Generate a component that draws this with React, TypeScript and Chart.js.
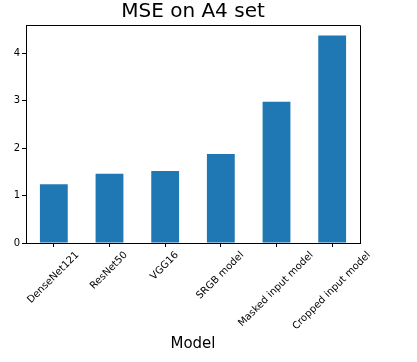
import React, { useEffect, useRef } from "react";
import { Chart, registerables } from "chart.js";

Chart.register(...registerables);

const categories = [
  "DenseNet121",
  "ResNet50",
  "VGG16",
  "SRGB model",
  "Masked input model",
  "Cropped input model",
];
const mseValues = [1.24, 1.46, 1.52, 1.88, 2.98, 4.38];
const yTicks = [0, 1, 2, 3, 4];
const titleText = "MSE on A4 set";
const xTitle = "Model";

const FONT = "'DejaVu Sans', sans-serif";

const framePlugin = {
  id: "frameAndLabels",
  afterDraw(chart: any) {
    const { ctx, chartArea } = chart;
    const xs = chart.scales.x;
    ctx.save();
    // spines (top and right)
    ctx.strokeStyle = "#000";
    ctx.lineWidth = 1;
    ctx.beginPath();
    ctx.moveTo(chartArea.left, chartArea.top + 0.5);
    ctx.lineTo(chartArea.right + 0.5, chartArea.top + 0.5);
    ctx.lineTo(chartArea.right + 0.5, chartArea.bottom);
    ctx.stroke();
    // rotated x tick labels, centered like matplotlib
    ctx.font = `10px ${FONT}`;
    ctx.fillStyle = "#000";
    ctx.textAlign = "right";
    ctx.textBaseline = "top";
    const h = 11.6;
    const c = Math.SQRT1_2;
    categories.forEach((label, i) => {
      const tx = xs.getPixelForTick(i);
      const w = ctx.measureText(label).width;
      const ax = tx + (c * (w - h)) / 2;
      const ay = chartArea.bottom + 7;
      ctx.save();
      ctx.translate(ax, ay);
      ctx.rotate(-Math.PI / 4);
      ctx.fillText(label, 0, 0);
      ctx.restore();
    });
    ctx.restore();
  },
};

export default function App() {
  const ref = useRef<HTMLCanvasElement | null>(null);
  useEffect(() => {
    document.body.style.margin = "0";
    const chart = new Chart(ref.current as HTMLCanvasElement, {
      type: "bar",
      data: {
        labels: categories,
        datasets: [
          {
            data: mseValues,
            backgroundColor: "#1f77b4",
            borderWidth: 0,
            barPercentage: 0.5,
            categoryPercentage: 1,
          },
        ],
      },
      plugins: [framePlugin],
      options: {
        animation: false,
        responsive: false,
        devicePixelRatio: 1,
        layout: { padding: { top: 0, left: 0, right: 57, bottom: 9 } },
        plugins: {
          legend: { display: false },
          tooltip: { enabled: false },
          title: {
            display: true,
            text: titleText,
            fullSize: false,
            color: "#000",
            font: { family: FONT, size: 20, weight: "normal", lineHeight: 1.2 },
            padding: { top: 0, bottom: 1 },
          },
        },
        scales: {
          x: {
            offset: true,
            grid: {
              display: true,
              offset: false,
              drawOnChartArea: false,
              tickLength: 4,
              tickColor: "#000",
            },
            border: { display: true, color: "#000", width: 1 },
            ticks: {
              callback: () => "",
              maxRotation: 0,
              minRotation: 0,
            },
            title: {
              display: true,
              text: xTitle,
              color: "#000",
              font: { family: FONT, size: 15, weight: "normal", lineHeight: 1.2 },
              padding: { top: 0, bottom: 0 },
            },
            afterFit: (scale: any) => {
              scale.height = 110;
            },
          },
          y: {
            min: 0,
            max: 4.6,
            grid: {
              display: true,
              drawOnChartArea: false,
              tickLength: 4,
              tickColor: "#000",
            },
            border: { display: true, color: "#000", width: 1 },
            afterBuildTicks: (scale: any) => {
              scale.ticks = yTicks.map((v) => ({ value: v }));
            },
            ticks: {
              color: "#000",
              padding: 2,
              font: { family: FONT, size: 10 },
              callback: (v: any) => String(v),
            },
            afterFit: (scale: any) => {
              scale.width = 26;
            },
          },
        },
      },
    });
    return () => chart.destroy();
  }, []);
  return (
    <div style={{ position: "fixed", left: 0, top: 0, width: 417, height: 362, background: "#fff" }}>
      <canvas ref={ref} width={417} height={362} />
    </div>
  );
}
